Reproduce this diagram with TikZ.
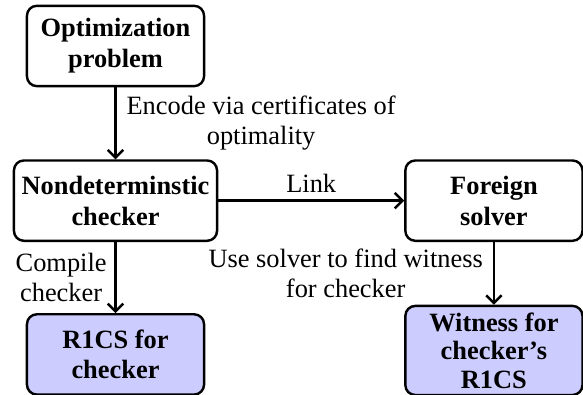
\documentclass[tikz,border=0pt]{standalone}
\usepackage{fontspec}
\setmainfont{Liberation Serif}
\usetikzlibrary{positioning,arrows.meta}
\definecolor{myfill}{RGB}{204,204,255}

\begin{document}
\begin{tikzpicture}[line width=1.1pt,
  >={Straight Barb[length=3.5pt,width=7pt]},
  box/.style={draw,rounded corners=4.5pt,align=center,font=\fontsize{12}{14}\selectfont\bfseries,
    minimum width=80.5pt,minimum height=36.5pt,inner xsep=3.5pt,inner ysep=0pt},
  outbox/.style={box,fill=myfill},
  lbl/.style={font=\fontsize{12}{13.5}\selectfont,align=center}]

  \useasboundingbox (0,0) rectangle (265pt,-179.1pt);

  \node[box] (opt) at (52.5pt,-20.9pt) {Optimization\\problem};
  \node[box,below=32.7pt of opt] (checker) {Nondeterminstic\\checker};
  \node[outbox,below=32.3pt of checker] (r1cs) {R1CS for\\checker};
  \node[box,right=84.5pt of checker] (solver) {Foreign\\solver};
  \node[outbox,below=28.5pt of solver,minimum height=40.5pt,font=\fontsize{12}{13}\selectfont\bfseries] (witness) {Witness for\\checker's\\R1CS};

  % arrows between the boxes
  \draw[->] (opt) -- node[lbl,right,inner sep=4.5pt] {Encode via certificates of\\optimality} (checker);
  \draw[->] (checker) -- node[lbl,left,inner sep=3.5pt] {Compile\\checker} (r1cs);
  \draw[->] (checker) -- node[lbl,above,inner sep=3pt] {Link} (solver);
  \draw[->] (solver) -- node[lbl,left,inner sep=4.5pt] {Use solver to find witness\\for checker} (witness);

\end{tikzpicture}
\end{document}
